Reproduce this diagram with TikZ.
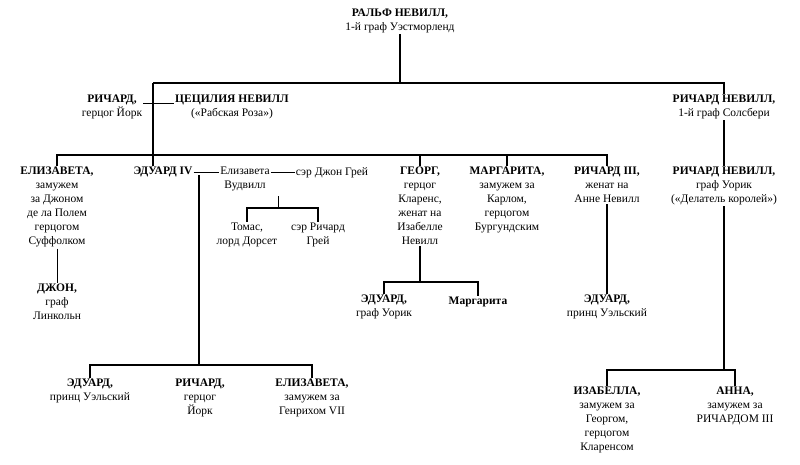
\documentclass[tikz,border=0pt]{standalone}
\usepackage{fontspec}
\setmainfont{Liberation Serif}
\usetikzlibrary{positioning}
\begin{document}
\begin{tikzpicture}[x=1pt,y=-1pt]
\tikzstyle{person} = [anchor=north, align=center, inner sep=1pt, font={\fontsize{11.5}{14}\selectfont}]
\tikzstyle{line} = [line width=1.8pt]
\tikzstyle{thin} = [line width=1pt]
\useasboundingbox (0,0) rectangle (800,464);

%top
\node (ralph)[person] at (400,8) {\textbf{РАЛЬФ НЕВИЛЛ,}\\1-й граф Уэстморленд};
\node (york)[person] at (112,94) {\textbf{РИЧАРД,}\\герцог Йорк};
\node (cecily)[person] at (232,94) {\textbf{ЦЕЦИЛИЯ НЕВИЛЛ}\\(«Рабская Роза»)};
\node (salisbury)[person] at (724,94) {\textbf{РИЧАРД НЕВИЛЛ,}\\1-й граф Солсбери};

%children of york
\node (elizabeth)[person] at (57,166) {\textbf{ЕЛИЗАВЕТА,}\\замужем\\за Джоном\\де ла Полем\\герцогом\\Суффолком};
\node (edward4)[person] at (163,166) {\textbf{ЭДУАРД IV}};
\node (woodville)[person] at (245,166) {Елизавета\\Вудвилл};
\node (grey)[person] at (332,166) {сэр Джон Грей};
\node (george)[person] at (420,166) {\textbf{ГЕОРГ,}\\герцог\\Кларенс,\\женат на\\Изабелле\\Невилл};
\node (margaret)[person] at (507,166) {\textbf{МАРГАРИТА,}\\замужем за\\Карлом,\\герцогом\\Бургундским};
\node (richard3)[person] at (607,166) {\textbf{РИЧАРД III,}\\женат на\\Анне Невилл};
\node (warwick)[person] at (724,166) {\textbf{РИЧАРД НЕВИЛЛ,}\\граф Уорик\\(«Делатель королей»)};

%grandchildren
\node (thomas)[person] at (247,222) {Томас,\\лорд Дорсет};
\node (rgrey)[person] at (318,222) {сэр Ричард\\Грей};
\node (john)[person] at (57,283) {\textbf{ДЖОН,}\\граф\\Линкольн};
\node (ewarwick)[person] at (384,294) {\textbf{ЭДУАРД,}\\граф Уорик};
\node (margarita)[person] at (478,296) {\textbf{Маргарита}};
\node (eprince)[person] at (607,294) {\textbf{ЭДУАРД,}\\принц Уэльский};
\node (edwardv)[person] at (90,378) {\textbf{ЭДУАРД,}\\принц Уэльский};
\node (ryork)[person] at (200,378) {\textbf{РИЧАРД,}\\герцог\\Йорк};
\node (elizabeth2)[person] at (312,378) {\textbf{ЕЛИЗАВЕТА,}\\замужем за\\Генрихом VII};
\node (isabel)[person] at (607,386) {\textbf{ИЗАБЕЛЛА,}\\замужем за\\Георгом,\\герцогом\\Кларенсом};
\node (anne)[person] at (735,386) {\textbf{АННА,}\\замужем за\\РИЧАРДОМ III};

%buses
\coordinate (ralphbus) at (400,83);
\coordinate (yorkbus) at (153,155);
\coordinate (edwardbus) at (199,365);
\coordinate (woodbus) at (278,208);
\coordinate (georgebus) at (420,282);
\coordinate (warwickbus) at (724,370);

\draw[line] (ralph.south) -- (ralphbus);
\draw[line] (153,83) -| (salisbury.north);
\draw[line] (153,83) -- (yorkbus);
\draw[thin] (york.east |- 0,103) -- (cecily.west |- 0,103);
\draw[line] (yorkbus) -| (elizabeth.north);
\draw[line] (yorkbus) -- (edward4.north -| yorkbus) ;
\draw[line] (yorkbus) -| (george.north);
\draw[line] (yorkbus -| george.north) -| (margaret.north);
\draw[line] (yorkbus -| margaret.north) -| (richard3.north);
\draw[line] (salisbury.south) -- (warwick.north);

\draw[thin] (edward4.east) -- (woodville.west |- edward4.east);
\draw[thin] (woodville.east |- grey.west) -- (grey.west);
\draw[line] (199,175) -- (edwardbus);
\draw[line] (edwardbus) -| (edwardv.north);
\draw[line] (edwardbus) -| (elizabeth2.north);
\draw[thin] (278,196) -- (woodbus);
\draw[line] (woodbus) -| (thomas.north);
\draw[line] (woodbus) -| (rgrey.north);

\draw[thin] (elizabeth.south) -- (john.north);
\draw[line] (george.south) -- (georgebus);
\draw[line] (georgebus) -| (ewarwick.north);
\draw[line] (georgebus) -| (margarita.north);
\draw[line] (richard3.south) -- (eprince.north);
\draw[line] (warwick.south) -- (warwickbus);
\draw[line] (warwickbus) -| (isabel.north);
\draw[line] (warwickbus) -| (anne.north);
\end{tikzpicture}
\end{document}
